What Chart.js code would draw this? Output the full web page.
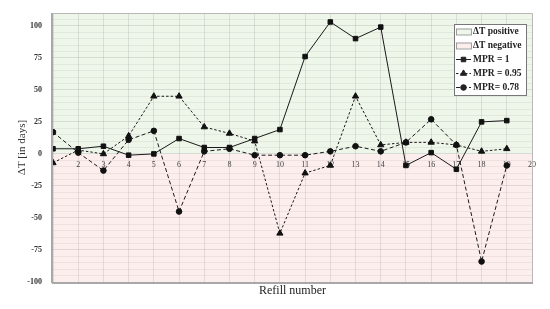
<!DOCTYPE html>
<html>
<head>
<meta charset="utf-8">
<script src="https://cdn.jsdelivr.net/npm/chart.js@4/dist/chart.umd.min.js"></script>
<style>
html,body{margin:0;padding:0;background:#fff;}
#wrap{width:550px;height:309px;position:relative;}
</style>
</head>
<body>
<div id="wrap"><canvas id="c" width="550" height="309"></canvas></div>
<script>
// ---- data ----
const refills = [1,2,3,4,5,6,7,8,9,10,11,12,13,14,15,16,17,18,19];
const mprOne  = [4,4,6,-1,0,12,5,5,12,19,76,103,90,99,-9,1,-12,25,26];
const mpr095  = [-7,3,0,14,45,45,21,16,10,-62,-15,-9,45,7,9,9,7,2,4];
const mpr078  = [17,1,-13,11,18,-45,2,4,-1,-1,-1,2,6,2,9,27,7,-84,-9];
const xTickLabels = ['', '2','3','4','5','6','7','8','9','10','11','12','13','14','15','16','17','18','19','20'];
const yTickLabels = [-100,-75,-50,-25,0,25,50,75,100];
const seriesNames = ['MPR = 1','MPR = 0.95','MPR= 0.78'];
const regionNames = ['\u0394T positive','\u0394T negative'];

const GREEN = 'rgb(238,245,233)';
const PINK  = 'rgb(253,238,238)';
const SERIF = '"Liberation Serif", "DejaVu Serif", serif';

function pts(vals){ return refills.map((r,i)=>({x:r,y:vals[i]})); }

const regionPlugin = {
  id:'regions',
  beforeDraw(chart){
    const {ctx, chartArea:a, scales} = chart;
    const y0 = scales.y.getPixelForValue(0);
    ctx.save();
    ctx.fillStyle = GREEN; ctx.fillRect(a.left, a.top, a.right-a.left, y0-a.top);
    ctx.fillStyle = PINK;  ctx.fillRect(a.left, y0, a.right-a.left, a.bottom-y0);
    ctx.restore();
  },
  afterDraw(chart){
    const {ctx, chartArea:a} = chart;
    ctx.save();
    ctx.strokeStyle = '#b8b8b8'; ctx.lineWidth = 1;
    ctx.beginPath();
    ctx.moveTo(a.left, a.top+0.5); ctx.lineTo(a.right+0.5, a.top+0.5); ctx.lineTo(a.right+0.5, a.bottom);
    ctx.stroke();
    ctx.strokeStyle = '#a8a8a8'; ctx.lineWidth = 2;
    ctx.beginPath(); ctx.moveTo(a.left-1, a.bottom+1); ctx.lineTo(a.right+1, a.bottom+1); ctx.stroke();
    ctx.beginPath(); ctx.moveTo(a.left-1, a.top); ctx.lineTo(a.left-1, a.bottom+1); ctx.stroke();

    // legend box
    const bx = a.right - 78, by = a.top + 11, bw = 72, bh = 71;
    ctx.fillStyle = '#fff'; ctx.fillRect(bx, by, bw, bh);
    ctx.strokeStyle = '#777'; ctx.lineWidth = 1;
    ctx.strokeRect(bx+0.5, by+0.5, bw, bh);
    ctx.font = 'bold 9.5px ' + SERIF;
    ctx.textBaseline = 'middle'; ctx.textAlign = 'left';
    const rowH = 14, sx = bx + 2, sw = 15, tx = bx + 19;
    const regionFill = [GREEN, PINK];
    regionNames.forEach((n,i)=>{
      const cy = by + 7.5 + i*rowH;
      ctx.fillStyle = regionFill[i]; ctx.fillRect(sx, cy-3, sw, 6);
      ctx.strokeStyle = '#888'; ctx.lineWidth = 0.8; ctx.strokeRect(sx+0.5, cy-3+0.5, sw, 6);
      ctx.fillStyle = '#222'; ctx.fillText(n, tx, cy);
    });
    chart.data.datasets.forEach((ds,i)=>{
      const cy = by + 7.5 + (i+2)*rowH;
      ctx.strokeStyle = '#222'; ctx.lineWidth = 1;
      ctx.setLineDash(ds.borderDash || []);
      ctx.beginPath(); ctx.moveTo(sx, cy); ctx.lineTo(sx+sw, cy); ctx.stroke();
      ctx.setLineDash([]);
      Chart.helpers.drawPoint(ctx, {pointStyle: ds.pointStyle, radius: ds.pointRadius, borderWidth: 1}, sx+sw/2, cy);
      ctx.fillStyle = '#222'; ctx.fillText(ds.label, tx, cy);
    });
    ctx.restore();
  }
};

const styles = [
  {dash: [], ps:'rect', r:3.2},
  {dash: [2.5,2], ps:'triangle', r:3.6},
  {dash: [4,2.5], ps:'circle', r:2.8}
];
const allVals = [mprOne, mpr095, mpr078];

new Chart(document.getElementById('c'), {
  type:'line',
  data:{
    datasets: allVals.map((v,i)=>({
      label: seriesNames[i],
      data: pts(v),
      borderColor:'#1a1a1a',
      backgroundColor:'#111',
      pointBackgroundColor:'#111',
      pointBorderColor:'#111',
      borderWidth:1,
      borderDash: styles[i].dash,
      pointStyle: styles[i].ps,
      pointRadius: styles[i].r,
      tension:0,
      fill:false
    }))
  },
  plugins:[regionPlugin],
  options:{
    responsive:false,
    animation:false,
    events:[],
    layout:{padding:{left:0,right:18,top:13,bottom:0}},
    plugins:{legend:{display:false}, tooltip:{enabled:false}},
    scales:{
      x:{
        type:'linear', position:{y:0}, min:1, max:20,
        border:{display:false},
        grid:{color:'rgba(0,0,0,0.09)', drawTicks:false},
        ticks:{stepSize:1, autoSkip:false, padding:6, maxRotation:0,
               color:'#444', font:{family:SERIF, size:8},
               callback:(v)=>xTickLabels[v-1] !== undefined ? xTickLabels[v-1] : ''}
      },
      x2:{
        type:'linear', position:'bottom', min:1, max:20,
        grid:{display:false, drawTicks:false}, border:{display:false},
        ticks:{display:false},
        title:{display:true, text:'Refill number', color:'#222',
               font:{family:SERIF, size:12}, padding:{top:0,bottom:11}},
        afterFit(s){ s.height = 27; }
      },
      y:{
        min:-100, max:110,
        border:{display:false},
        grid:{drawTicks:true, tickLength:11, tickColor:'rgba(0,0,0,0)',
              color:(c)=> (c.tick && c.tick.value % 25 === 0) ? 'rgba(0,0,0,0.10)' : 'rgba(0,0,0,0.05)'},
        ticks:{stepSize:5, autoSkip:false, padding:0, color:'#333',
               font:{family:SERIF, size:8, weight:'bold'},
               callback:(v)=> yTickLabels.includes(v) ? String(v) : ''},
        title:{display:true, text:'\u0394T [in days]', color:'#333',
               font:{family:SERIF, size:11}, padding:{top:16,bottom:0}},
        afterFit(s){ s.width = 53; }
      }
    }
  }
});
</script>
</body>
</html>
